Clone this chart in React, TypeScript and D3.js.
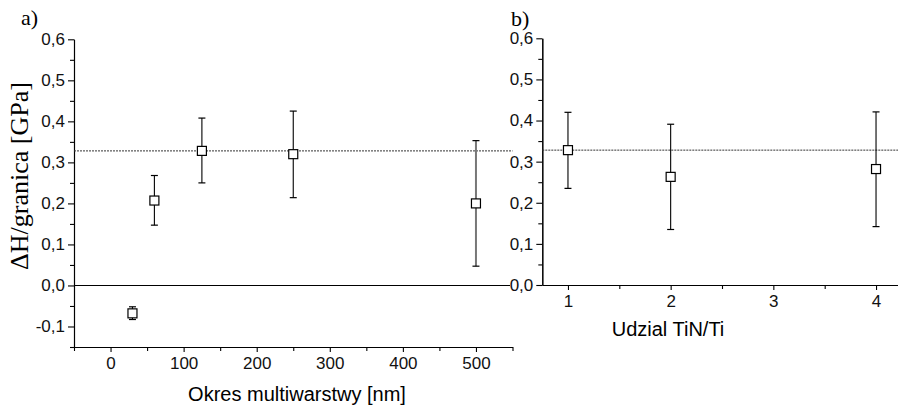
import { useEffect, useRef } from "react";
import * as d3 from "d3";

// panel a: hardness gain vs multilayer period
const periods = [30, 60, 125, 250, 500];
const periodValues = [-0.068, 0.207, 0.328, 0.32, 0.2];
const periodErrLow = [-0.083, 0.147, 0.25, 0.214, 0.047];
const periodErrHigh = [-0.052, 0.268, 0.408, 0.425, 0.353];

// panel b: hardness gain vs TiN/Ti ratio
const ratios = [1, 2, 4];
const ratioValues = [0.328, 0.263, 0.282];
const ratioErrLow = [0.235, 0.135, 0.142];
const ratioErrHigh = [0.42, 0.391, 0.421];

const refLevel = 0.328;

const xTicksA = [0, 100, 200, 300, 400, 500];
const xMinorA = [-50, 50, 150, 250, 350, 450, 550];
const yTicksA = [-0.1, 0, 0.1, 0.2, 0.3, 0.4, 0.5, 0.6];
const yMinorA = [-0.15, -0.05, 0.05, 0.15, 0.25, 0.35, 0.45, 0.55];
const xTicksB = [1, 2, 3, 4];
const xMinorB = [1.5, 2.5, 3.5];
const yTicksB = [0, 0.1, 0.2, 0.3, 0.4, 0.5, 0.6];
const yMinorB = [0.05, 0.15, 0.25, 0.35, 0.45, 0.55];

const W = 898;
const H = 405;
const SANS = "'Liberation Sans', Arial, sans-serif";
const SERIF = "'Liberation Serif', 'Times New Roman', serif";

const comma = (v: number) => v.toFixed(1).replace(".", ",");

export default function App() {
  const ref = useRef<SVGSVGElement>(null);

  useEffect(() => {
    const svg = d3.select(ref.current);
    svg.selectAll("*").remove();

    const xA = d3.scaleLinear().domain([-50, 550]).range([74, 512.5]);
    const yA = d3.scaleLinear().domain([-0.15, 0.6]).range([347, 39.3]);
    const xB = d3.scaleLinear().domain([0.75, 4.25]).range([542.3, 901.7]);
    const yB = d3.scaleLinear().domain([0, 0.6]).range([285, 38.3]);

    const drawAxes = (
      x: d3.ScaleLinear<number, number>,
      y: d3.ScaleLinear<number, number>,
      xt: number[], xm: number[], yt: number[], ym: number[],
      fmtX: (v: number) => string
    ) => {
      const bottom = y.range()[0];
      const left = x.range()[0];
      const gx = svg.append("g").attr("transform", `translate(0,${bottom})`);
      gx.call(d3.axisBottom(x).tickValues(xt).tickSize(5).tickSizeOuter(0).tickPadding(5).tickFormat(fmtX as any));
      gx.append("g").call(d3.axisBottom(x).tickValues(xm).tickSize(4).tickSizeOuter(0).tickFormat(() => ""));
      const gy = svg.append("g").attr("transform", `translate(${left},0)`);
      gy.call(d3.axisLeft(y).tickValues(yt).tickSize(6).tickSizeOuter(0).tickPadding(3).tickFormat(comma as any));
      gy.append("g").call(d3.axisLeft(y).tickValues(ym).tickSize(4).tickSizeOuter(0).tickFormat(() => ""));
      svg.selectAll("g text").attr("font-family", SANS).attr("font-size", 17).attr("fill", "#111");
      svg.selectAll(".domain, .tick line").attr("stroke", "#000").attr("stroke-width", 1.1);
    };

    drawAxes(xA, yA, xTicksA, xMinorA, yTicksA, yMinorA, (v) => String(v));
    drawAxes(xB, yB, xTicksB, xMinorB, yTicksB, yMinorB, (v) => String(v));

    // zero line and reference level in panel a
    svg.append("line")
      .attr("x1", xA.range()[0]).attr("x2", 510)
      .attr("y1", yA(0)).attr("y2", yA(0))
      .attr("stroke", "#000").attr("stroke-width", 1.1);
    svg.append("line")
      .attr("x1", xA.range()[0]).attr("x2", xA.range()[1])
      .attr("y1", yA(refLevel)).attr("y2", yA(refLevel))
      .attr("stroke", "#333").attr("stroke-dasharray", "2,1");
    svg.append("line")
      .attr("x1", xB.range()[0]).attr("x2", W)
      .attr("y1", yB(refLevel)).attr("y2", yB(refLevel))
      .attr("stroke", "#333").attr("stroke-dasharray", "2,1");

    const drawPoints = (
      x: d3.ScaleLinear<number, number>,
      y: d3.ScaleLinear<number, number>,
      xs: number[], vs: number[], lo: number[], hi: number[]
    ) => {
      const pts = xs.map((d, i) => ({ x: d, v: vs[i], lo: lo[i], hi: hi[i] }));
      const g = svg.append("g");
      const bar = g.selectAll("g").data(pts).join("g");
      bar.append("line")
        .attr("x1", (d) => x(d.x)).attr("x2", (d) => x(d.x))
        .attr("y1", (d) => y(d.lo)).attr("y2", (d) => y(d.hi))
        .attr("stroke", (d) => (d.x === 500 ? "#777" : "#000"))
        .attr("stroke-width", (d) => (d.x === 500 ? 2 : 1.1));
      for (const k of ["lo", "hi"] as const) {
        bar.append("line")
          .attr("x1", (d) => x(d.x) - 3.5).attr("x2", (d) => x(d.x) + 3.5)
          .attr("y1", (d) => y(d[k])).attr("y2", (d) => y(d[k]))
          .attr("stroke", "#000").attr("stroke-width", 1.2);
      }
      bar.append("rect")
        .attr("x", (d) => x(d.x) - 4.5).attr("y", (d) => y(d.v) - 4.5)
        .attr("width", 9).attr("height", 9)
        .attr("fill", "#fff").attr("stroke", "#000").attr("stroke-width", 1.2);
    };

    drawPoints(xA, yA, periods, periodValues, periodErrLow, periodErrHigh);
    drawPoints(xB, yB, ratios, ratioValues, ratioErrLow, ratioErrHigh);

    // labels
    svg.append("text").attr("x", 21).attr("y", 25)
      .attr("font-family", SERIF).attr("font-size", 22).text("a)");
    svg.append("text").attr("x", 511).attr("y", 26)
      .attr("font-family", SERIF).attr("font-size", 22).text("b)");
    svg.append("text")
      .attr("transform", "translate(28,176) rotate(-90)")
      .attr("text-anchor", "middle")
      .attr("font-family", SERIF).attr("font-size", 26)
      .text("ΔH/granica [GPa]");
    svg.append("text").attr("x", 297).attr("y", 401)
      .attr("text-anchor", "middle")
      .attr("font-family", SANS).attr("font-size", 20)
      .text("Okres multiwarstwy [nm]");
    svg.append("text").attr("x", 668).attr("y", 336)
      .attr("text-anchor", "middle")
      .attr("font-family", SANS).attr("font-size", 20)
      .text("Udzial TiN/Ti");
  }, []);

  return (
    <svg
      ref={ref}
      width={W}
      height={H}
      style={{ position: "absolute", left: 0, top: 0, background: "#fff" }}
    />
  );
}
